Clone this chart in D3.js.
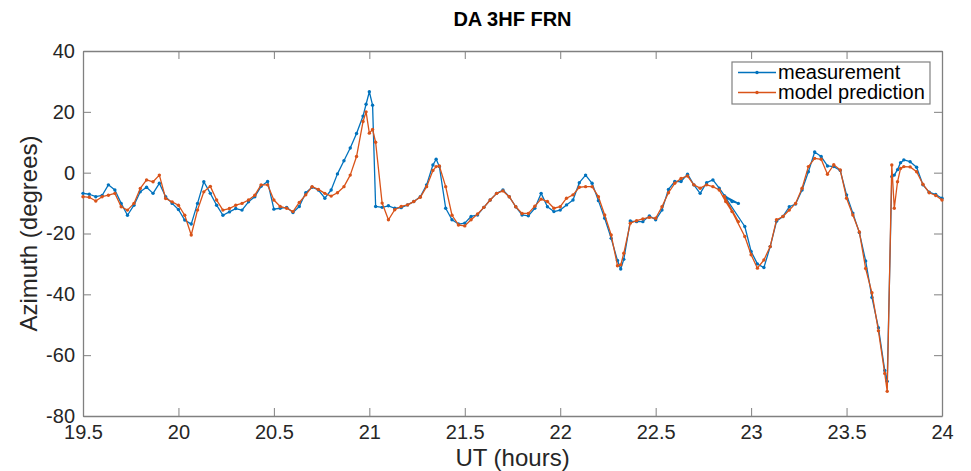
<!DOCTYPE html>
<html>
<head>
<meta charset="utf-8">
<title>DA 3HF FRN</title>
<script src="https://cdn.jsdelivr.net/npm/d3@7/dist/d3.min.js"></script>
<style>
  html, body { margin: 0; padding: 0; background: #fff; }
  svg { display: block; font-family: "Liberation Sans", Arial, Helvetica, sans-serif; }
</style>
</head>
<body>
<svg id="viz" width="971" height="471"></svg>
<script>
// chart data
var chartTitle = 'DA 3HF FRN';
var xLabel = 'UT (hours)';
var yLabel = 'Azimuth (degrees)';
var seriesNames = ['measurement', 'model prediction'];
var xTicks = [19.5, 20, 20.5, 21, 21.5, 22, 22.5, 23, 23.5, 24];
var yTicks = [-80, -60, -40, -20, 0, 20, 40];

// sample times (hours UT); the track doubles back once near 22.9
var times = [
  19.50, 19.533, 19.567, 19.60, 19.633, 19.667, 19.70, 19.733, 19.767, 19.80,
  19.833, 19.867, 19.90, 19.933, 19.967, 20.00, 20.033, 20.067, 20.10, 20.133,
  20.167, 20.20, 20.233, 20.267, 20.30, 20.333, 20.367, 20.40, 20.433, 20.467,
  20.50, 20.533, 20.567, 20.60, 20.633, 20.667, 20.70, 20.733, 20.767, 20.80,
  20.833, 20.867, 20.90, 20.933, 20.967, 20.983, 21.00, 21.017, 21.033, 21.067,
  21.10, 21.133, 21.167, 21.20, 21.233, 21.267, 21.30, 21.333, 21.35, 21.367,
  21.40, 21.433, 21.467, 21.50, 21.533, 21.567, 21.60, 21.633, 21.667, 21.70,
  21.733, 21.767, 21.80, 21.833, 21.867, 21.90, 21.933, 21.967, 22.00, 22.033,
  22.067, 22.10, 22.133, 22.167, 22.20, 22.233, 22.267, 22.30, 22.317, 22.333,
  22.367, 22.40, 22.433, 22.467, 22.50, 22.533, 22.567, 22.60, 22.633, 22.667,
  22.70, 22.733, 22.767, 22.80, 22.833, 22.867, 22.90, 22.933, 22.86, 22.967,
  23.00, 23.033, 23.067, 23.10, 23.133, 23.167, 23.20, 23.233, 23.267, 23.30,
  23.333, 23.367, 23.40, 23.433, 23.467, 23.50, 23.533, 23.567, 23.60, 23.633,
  23.667, 23.70, 23.713, 23.737, 23.75, 23.767, 23.783, 23.80, 23.833, 23.867,
  23.90, 23.933, 23.967, 24.00
];

var measurement = [
  -6.8, -7.1, -7.9, -7.5, -4.0, -5.7, -10.1, -14.0, -10.7, -6.3,
  -4.8, -6.8, -3.5, -7.9, -10.1, -12.1, -15.6, -16.9, -10.1, -3.0,
  -6.8, -10.7, -14.0, -12.9, -11.8, -12.3, -9.6, -7.9, -4.5, -2.9,
  -12.0, -11.7, -11.4, -13.1, -11.1, -6.6, -4.8, -5.7, -8.4, -5.7,
  -0.4, 3.9, 8.1, 12.9, 18.6, 22.5, 26.6, 22.2, -11.1, -11.4,
  -10.9, -11.7, -11.5, -10.6, -9.5, -7.9, -4.0, 2.5, 4.4, 2.0,
  -11.7, -15.5, -16.9, -16.6, -14.4, -13.9, -11.4, -9.0, -6.8, -5.7,
  -7.9, -11.2, -13.9, -14.2, -11.7, -6.8, -11.2, -12.8, -12.3, -10.6,
  -9.0, -3.3, -0.8, -3.5, -9.2, -15.0, -21.6, -28.9, -31.7, -28.5,
  -15.9, -16.1, -16.1, -14.2, -15.5, -12.3, -5.5, -2.9, -2.9, -0.5,
  -4.0, -6.8, -3.3, -2.4, -5.1, -8.1, -9.5, -10.1, -7.6, -17.7,
  -25.9, -30.0, -31.2, -24.3, -16.0, -14.4, -11.2, -10.3, -5.7, 0.3,
  6.8, 5.3, 2.2, 2.0, 0.7, -7.3, -13.3, -19.7, -29.0, -41.0,
  -51.0, -65.0, -68.6, -1.3, -0.8, 1.0, 3.3, 4.2, 3.6, 1.8,
  -4.0, -6.4, -7.2, -8.4
];

var prediction = [
  -7.9, -8.1, -9.3, -7.9, -7.4, -6.8, -11.2, -12.3, -10.1, -5.2,
  -2.4, -3.0, -0.8, -8.5, -9.6, -10.7, -14.0, -20.5, -12.3, -6.3,
  -4.5, -9.0, -12.3, -11.8, -10.7, -10.1, -9.0, -7.4, -4.0, -4.0,
  -9.0, -11.1, -11.7, -12.8, -9.8, -7.3, -4.6, -5.5, -6.8, -7.7,
  -6.6, -4.6, -0.8, 5.3, 16.8, 20.0, 13.0, 14.2, 10.0, -10.0,
  -15.5, -12.2, -11.1, -10.6, -9.5, -8.1, -4.6, 0.7, 2.0, 2.2,
  -4.6, -14.0, -17.2, -17.5, -15.5, -13.6, -11.4, -9.0, -6.8, -6.0,
  -7.9, -11.2, -13.4, -13.4, -11.0, -8.7, -9.5, -11.7, -11.2, -8.4,
  -7.3, -4.8, -4.6, -4.6, -7.9, -13.9, -20.5, -30.6, -30.3, -26.5,
  -16.6, -15.8, -15.2, -14.7, -15.0, -11.2, -6.6, -3.5, -1.9, -1.1,
  -4.0, -5.1, -4.0, -4.6, -5.7, -9.5, -12.8, -16.1, -7.8, -21.0,
  -27.0, -31.4, -28.7, -24.3, -15.5, -14.4, -12.3, -10.1, -5.1, 2.0,
  4.7, 4.4, -0.5, 2.6, 0.9, -8.4, -13.9, -19.5, -31.5, -39.5,
  -52.0, -66.0, -71.9, 2.5, -11.7, -3.0, 1.4, 2.0, 1.9, 0.3,
  -3.8, -6.6, -7.5, -9.0
];

(function () {
  'use strict';

  var colors = ['#0072BD', '#D95319'];
  var axisColor = '#808080';
  var textColor = '#262626';

  // plot box in pixels
  var left = 83, right = 942, top = 51, bottom = 416;

  var svg = d3.select('#viz');

  var x = d3.scaleLinear().domain([19.5, 24]).range([left, right]);
  var y = d3.scaleLinear().domain([-80, 40]).range([bottom, top]);

  var fmt = function (d) { return String(d); };

  // bottom + left axes with labels, ticks pointing inward
  var gx = svg.append('g')
    .attr('transform', 'translate(0,' + bottom + ')')
    .call(d3.axisBottom(x).tickValues(xTicks).tickFormat(fmt)
      .tickSizeInner(-8).tickSizeOuter(0).tickPadding(9));

  var gy = svg.append('g')
    .attr('transform', 'translate(' + left + ',0)')
    .call(d3.axisLeft(y).tickValues(yTicks).tickFormat(fmt)
      .tickSizeInner(-8).tickSizeOuter(0).tickPadding(8));

  // top + right axes, ticks only (box on)
  var gt = svg.append('g')
    .attr('transform', 'translate(0,' + top + ')')
    .call(d3.axisTop(x).tickValues(xTicks).tickFormat('')
      .tickSizeInner(-8).tickSizeOuter(0));

  var gr = svg.append('g')
    .attr('transform', 'translate(' + right + ',0)')
    .call(d3.axisRight(y).tickValues(yTicks).tickFormat('')
      .tickSizeInner(-8).tickSizeOuter(0));

  [gx, gy, gt, gr].forEach(function (g) {
    g.select('.domain').attr('stroke', axisColor).attr('stroke-width', 1.3);
    g.selectAll('.tick line').attr('stroke', axisColor).attr('stroke-width', 1);
    g.selectAll('.tick text')
      .attr('fill', textColor)
      .style('font-size', '20px')
      .style('font-family', '"Liberation Sans", Arial, sans-serif');
  });

  // series
  var allSeries = [measurement, prediction];
  var line = d3.line()
    .x(function (d) { return x(d[0]); })
    .y(function (d) { return y(d[1]); });

  allSeries.forEach(function (vals, k) {
    var pts = times.map(function (t, i) { return [t, vals[i]]; });
    var g = svg.append('g');
    g.append('path')
      .datum(pts)
      .attr('fill', 'none')
      .attr('stroke', colors[k])
      .attr('stroke-width', 1.3)
      .attr('stroke-linejoin', 'round')
      .attr('d', line);
    g.selectAll('circle')
      .data(pts)
      .enter()
      .append('circle')
      .attr('cx', function (d) { return x(d[0]); })
      .attr('cy', function (d) { return y(d[1]); })
      .attr('r', 1.7)
      .attr('fill', colors[k]);
  });

  // title and axis labels
  svg.append('text')
    .attr('x', (left + right) / 2)
    .attr('y', 26)
    .attr('text-anchor', 'middle')
    .attr('fill', '#000')
    .style('font-size', '20px')
    .style('font-weight', 'bold')
    .text(chartTitle);

  svg.append('text')
    .attr('x', (left + right) / 2)
    .attr('y', 466)
    .attr('text-anchor', 'middle')
    .attr('fill', textColor)
    .style('font-size', '24px')
    .text(xLabel);

  svg.append('text')
    .attr('transform', 'translate(37,' + ((top + bottom) / 2) + ') rotate(-90)')
    .attr('text-anchor', 'middle')
    .attr('fill', textColor)
    .style('font-size', '24px')
    .text(yLabel);

  // legend
  var legend = svg.append('g');
  legend.append('rect')
    .attr('x', 732)
    .attr('y', 62)
    .attr('width', 198)
    .attr('height', 42)
    .attr('fill', '#fff')
    .attr('stroke', axisColor)
    .attr('stroke-width', 1.2);

  seriesNames.forEach(function (name, k) {
    var ly = 72.5 + k * 20;
    legend.append('line')
      .attr('x1', 738).attr('x2', 776)
      .attr('y1', ly).attr('y2', ly)
      .attr('stroke', colors[k])
      .attr('stroke-width', 1.3);
    legend.append('circle')
      .attr('cx', 757).attr('cy', ly).attr('r', 1.7)
      .attr('fill', colors[k]);
    legend.append('text')
      .attr('x', 778)
      .attr('y', ly + 6)
      .attr('fill', '#000')
      .style('font-size', '20px')
      .text(name);
  });
})();
</script>
</body>
</html>
